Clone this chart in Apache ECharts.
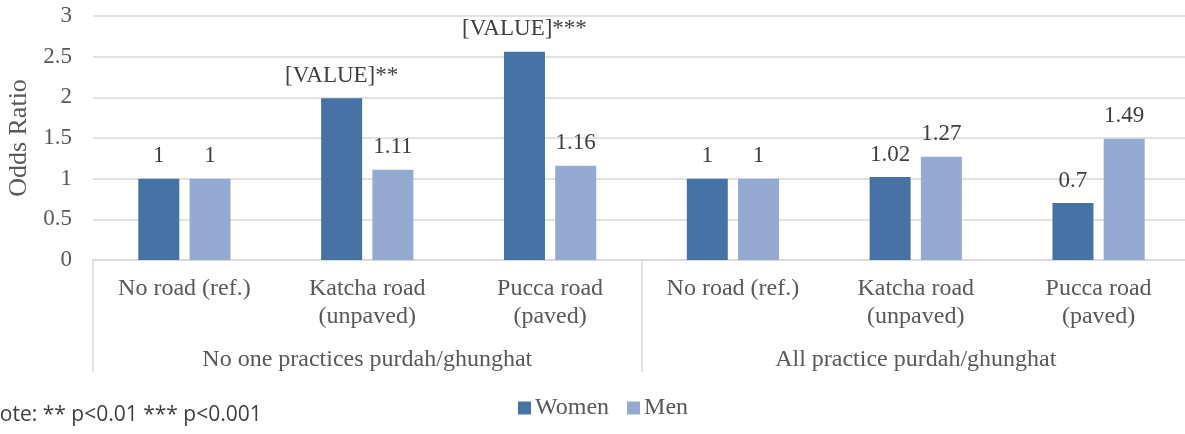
<!DOCTYPE html>
<html><head><meta charset="utf-8">
<script src="https://cdn.jsdelivr.net/npm/echarts@6/dist/echarts.min.js"></script>
<style>html,body{margin:0;padding:0;background:#fff}#c{width:1185px;height:434px}</style>
</head><body><div id="c"></div>
<script>
const categories = ['No road (ref.)','Katcha road\n(unpaved)','Pucca road\n(paved)','No road (ref.)','Katcha road\n(unpaved)','Pucca road\n(paved)'];
const groups = ['No one practices purdah/ghunghat','All practice purdah/ghunghat'];
const women = [1, 1.99, 2.56, 1, 1.02, 0.7];
const men = [1, 1.11, 1.16, 1, 1.27, 1.49];
const womenLabels = ['1','[VALUE]**','[VALUE]***','1','1.02','0.7'];
const menLabels = ['1','1.11','1.16','1','1.27','1.49'];
const yTicks = [0,0.5,1,1.5,2,2.5,3];
const noteText = 'Note: ** p<0.01 *** p<0.001';

const serif = '"Liberation Serif","Times New Roman",serif';
const chart = echarts.init(document.getElementById('c'), null, {renderer:'canvas'});
chart.setOption({
  animation:false,
  grid:{left:93,right:-5,top:16,bottom:174,containLabel:false,outerBoundsMode:'none'},
  legend:{
    data:['Women','Men'], bottom:9, left:513, itemWidth:13, itemHeight:13, itemGap:18,
    icon:'rect',
    textStyle:{fontFamily:serif,fontSize:24,color:'#595959',padding:[0,0,0,-1]}
  },
  xAxis:[
    {type:'category',data:categories,position:'bottom',
     axisLine:{lineStyle:{color:'#d9d9d9',width:1.5}},axisTick:{show:false},
     axisLabel:{fontFamily:serif,fontSize:24,color:'#595959',lineHeight:28,margin:15,interval:0}},
    {type:'category',data:groups,position:'bottom',gridIndex:0,
     axisLine:{show:false},
     axisTick:{show:true,length:112,lineStyle:{color:'#d9d9d9',width:1.5}},
     axisLabel:{fontFamily:serif,fontSize:24,color:'#595959',margin:88,interval:0}}
  ],
  yAxis:{type:'value',min:yTicks[0],max:yTicks[yTicks.length-1],interval:0.5,
    name:'Odds Ratio',nameLocation:'middle',nameGap:52,
    nameTextStyle:{fontFamily:serif,fontSize:26,color:'#595959'},
    axisLine:{show:false},axisTick:{show:false},
    axisLabel:{fontFamily:serif,fontSize:23,color:'#595959',margin:21},
    splitLine:{lineStyle:{color:'#d9d9d9',width:1.5}}},
  series:[
    {name:'Women',type:'bar',data:women,barWidth:41,barGap:'25%',xAxisIndex:0,
     itemStyle:{color:'#4672A6'},
     label:{show:true,position:'top',distance:11,fontFamily:serif,fontSize:23,color:'#404040',
       formatter:p=>womenLabels[p.dataIndex]}},
    {name:'Men',type:'bar',data:men,barWidth:41,barGap:'25%',xAxisIndex:0,
     itemStyle:{color:'#95AAD0'},
     label:{show:true,position:'top',distance:11,fontFamily:serif,fontSize:23,color:'#404040',
       formatter:p=>menLabels[p.dataIndex]}}
  ],
  graphic:[{type:'text',left:-16,top:405,style:{text:noteText,fontFamily:'"Open Sans","Noto Sans",sans-serif',fontSize:21,fill:'#404040'}}]
});
</script></body></html>
